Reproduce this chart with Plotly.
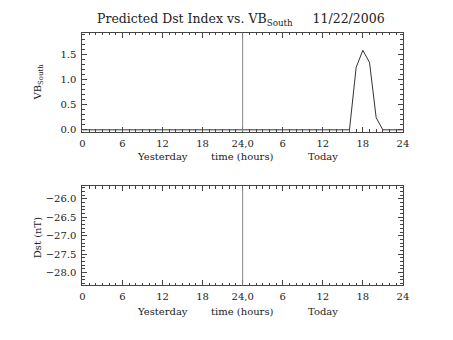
import plotly.graph_objects as go

# Hourly VB_South over two days (0-24 yesterday, 24-48 today)
hours = list(range(0, 49))
vb_south = [0.0] * 49
peak_hours = [40, 41, 42, 43, 44, 45]
peak_vals = [0.0, 1.24, 1.58, 1.34, 0.24, 0.0]
for h, v in zip(peak_hours, peak_vals):
    vb_south[h] = v

# Dst prediction (no values available for this date)
dst_hours = []
dst_vals = []

x_tickvals = [0, 6, 12, 18, 24, 30, 36, 42, 48]
x_ticktext = ["0", "6", "12", "18", "24,0", "6", "12", "18", "24"]
day_labels = ["Yesterday", "time (hours)", "Today"]
day_label_pos = [12, 24, 36]

vb_range = [-0.04, 1.93]
dst_range = [-28.35, -25.66]

FONT = "DejaVu Serif"
TXT = "#222222"
LINE = "#333333"
AX = "#444444"
FS = 10

fig = go.Figure()
fig.add_trace(go.Scatter(x=hours, y=vb_south, mode="lines",
                         line=dict(color=LINE, width=1), xaxis="x", yaxis="y",
                         showlegend=False))
fig.add_trace(go.Scatter(x=dst_hours, y=dst_vals, mode="lines",
                         line=dict(color=LINE, width=1), xaxis="x2", yaxis="y2",
                         showlegend=False))

xd = [81 / 453, 408 / 453]
top_dom = [(340 - 133) / 340, (340 - 33) / 340]
bot_dom = [(340 - 288) / 340, (340 - 188) / 340]

xcommon = dict(range=[0, 48], tickvals=x_tickvals, ticktext=x_ticktext,
               ticks="inside", ticklen=5, tickcolor=AX, showline=True,
               linecolor=AX, linewidth=1, mirror="ticks", showgrid=False,
               zeroline=False, ticklabelstandoff=2,
               tickfont=dict(family=FONT, size=FS, color=TXT),
               minor=dict(dtick=1, tick0=0, ticks="inside", ticklen=2.5,
                          tickcolor=AX, showgrid=False),
               domain=xd)
ycommon = dict(ticks="inside", ticklen=5, tickcolor=AX, showline=True,
               linecolor=AX, linewidth=1, mirror="ticks", showgrid=False,
               zeroline=False, ticklabelstandoff=3,
               tickfont=dict(family=FONT, size=FS, color=TXT))

fig.update_layout(
    width=453, height=340,
    margin=dict(l=0, r=0, t=0, b=0),
    paper_bgcolor="white", plot_bgcolor="white",
    xaxis=dict(xcommon, anchor="y"),
    yaxis=dict(ycommon, domain=top_dom, anchor="x", range=vb_range,
               tickvals=[0, 0.5, 1.0, 1.5], ticktext=["0.0", "0.5", "1.0", "1.5"],
               minor=dict(dtick=0.1, tick0=0, ticks="inside", ticklen=2.5,
                          tickcolor=AX, showgrid=False)),
    xaxis2=dict(xcommon, anchor="y2"),
    yaxis2=dict(ycommon, domain=bot_dom, anchor="x2", range=dst_range,
                tickvals=[-28, -27.5, -27, -26.5, -26],
                ticktext=["\u221228.0", "\u221227.5", "\u221227.0", "\u221226.5", "\u221226.0"],
                minor=dict(dtick=0.1, tick0=0, ticks="inside", ticklen=2.5,
                           tickcolor=AX, showgrid=False)),
    font=dict(family=FONT, color=TXT),
)

# divider between yesterday and today
for xa, ya in [("x", "y"), ("x2", "y2")]:
    fig.add_shape(type="line", x0=24, x1=24, y0=0, y1=1, xref=xa,
                  yref=ya + " domain", line=dict(color="#888888", width=1))

# day labels under each time axis
for xa, ypix in [("x", 157.5), ("x2", 314.5)]:
    for txt, pos in zip(day_labels, day_label_pos):
        fig.add_annotation(x=pos, y=(340 - ypix) / 340, xref=xa, yref="paper",
                           text=txt, showarrow=False,
                           font=dict(family=FONT, size=FS, color=TXT),
                           xanchor="center", yanchor="middle")

# y-axis titles
for txt, ypix in [("VB<sub>South</sub>", 83), ("Dst (nT)", 240)]:
    fig.add_annotation(x=36 / 453, y=(340 - ypix) / 340, xref="paper", yref="paper",
                       text=txt, showarrow=False, textangle=-90,
                       font=dict(family=FONT, size=FS, color=TXT),
                       xanchor="center", yanchor="middle")

fig.add_annotation(x=243 / 453, y=(340 - 20) / 340, xref="paper", yref="paper",
                   text="Predicted Dst Index vs. VB<sub>South</sub>     11/22/2006",
                   showarrow=False, xanchor="center", yanchor="middle",
                   font=dict(family=FONT, size=12.5, color=TXT))

fig.write_html("out.html")
